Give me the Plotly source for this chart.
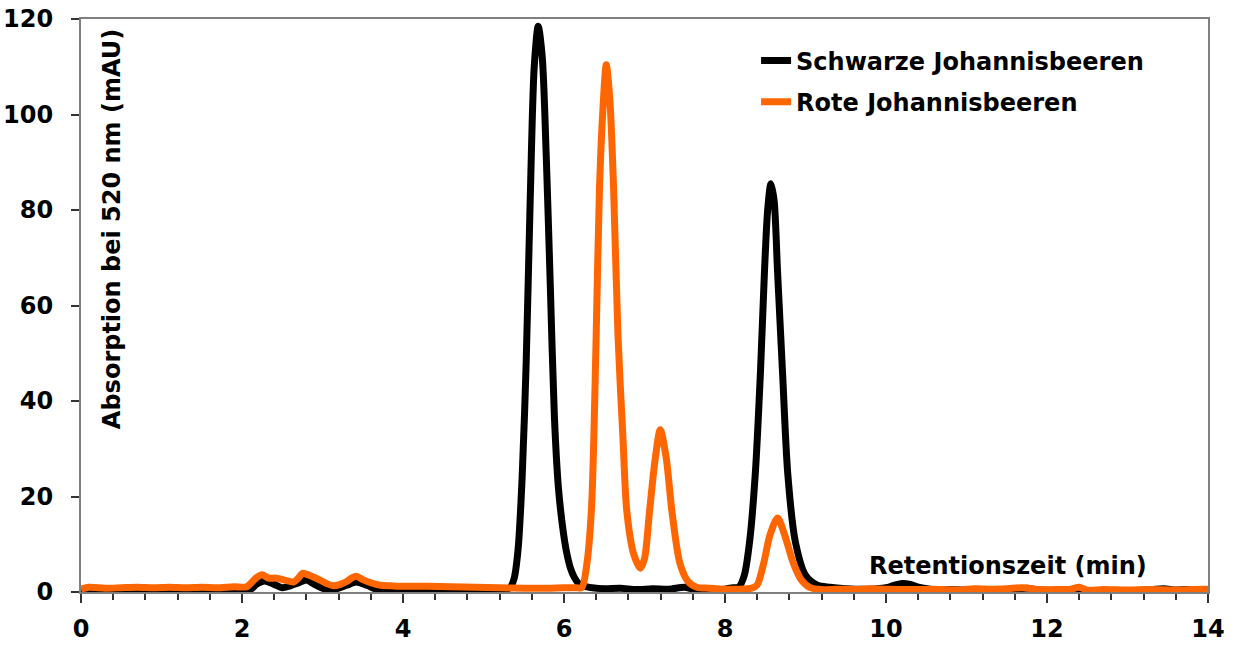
import plotly.graph_objects as go

# Retention time (min) and absorbance (mAU)
black_x = [0, 0.3, 0.6, 0.9, 1.2, 1.5, 1.8, 2.1, 2.18, 2.28, 2.4, 2.5, 2.6, 2.7, 2.8, 2.9,
           3.0, 3.1, 3.2, 3.3, 3.42, 3.55, 3.7, 3.9, 4.2, 4.6, 5.0, 5.2, 5.28,
           5.33, 5.38, 5.43, 5.48, 5.53, 5.58, 5.63, 5.68, 5.73, 5.78, 5.83, 5.88, 5.93,
           5.98, 6.03, 6.08, 6.13, 6.18, 6.25, 6.35, 6.5, 6.7, 6.9, 7.1, 7.3, 7.5, 7.6,
           7.8, 8.0, 8.1, 8.17, 8.24, 8.306, 8.376, 8.44, 8.49, 8.53, 8.57, 8.61, 8.653,
           8.715, 8.78, 8.873, 9.0, 9.14, 9.3, 9.5, 9.8, 10.0, 10.1, 10.2, 10.3, 10.4,
           10.55, 10.8, 11.0, 11.3, 11.6, 11.75, 11.9, 12.2, 12.5, 12.8, 13.1, 13.3,
           13.45, 13.6, 13.75, 13.9, 14.0]
black_y = [0.5, 0.4, 0.5, 0.4, 0.5, 0.4, 0.5, 0.5, 1.6, 2.3, 1.6, 0.9, 1.3, 1.9, 2.5, 1.6,
           0.8, 0.4, 0.8, 1.4, 2.1, 1.4, 0.4, 0.3, 0.4, 0.3, 0.4, 0.5, 0.6,
           0.9, 2.8, 9.0, 24.0, 48.0, 82.0, 110.0, 118.5, 112.0, 91.0, 64.0, 37.0, 22.0,
           14.0, 8.5, 5.0, 3.0, 1.8, 1.2, 0.9, 0.7, 0.8, 0.5, 0.7, 0.6, 1.0, 0.6,
           0.5, 0.6, 0.9, 1.0, 3.5, 10.6, 24.7, 45.9, 67.0, 80.0, 85.5, 82.0, 67.0,
           45.9, 24.7, 10.6, 3.5, 1.5, 1.0, 0.7, 0.6, 0.9, 1.4, 1.8, 1.6, 1.0,
           0.6, 0.5, 0.4, 0.5, 0.6, 0.8, 0.4, 0.4, 0.3, 0.3, 0.3, 0.5,
           0.7, 0.4, 0.5, 0.2, 0.3]

orange_x = [0, 0.1, 0.3, 0.5, 0.7, 0.9, 1.1, 1.3, 1.5, 1.7, 1.9, 2.06, 2.12, 2.18, 2.25,
            2.33, 2.43, 2.53, 2.64, 2.7, 2.75, 2.85, 2.97, 3.06, 3.14, 3.22, 3.3, 3.36,
            3.42, 3.5, 3.59, 3.72, 3.85, 4.0, 4.3, 4.6, 4.9, 5.2, 5.5, 5.8, 6.0, 6.15,
            6.22, 6.285, 6.34, 6.37, 6.40, 6.44, 6.48, 6.525, 6.57, 6.617, 6.67, 6.733,
            6.78, 6.865, 6.948, 7.0, 7.063, 7.134, 7.196, 7.27, 7.34, 7.44, 7.54, 7.65,
            7.8, 8.0, 8.2, 8.33, 8.40, 8.48, 8.56, 8.653, 8.74, 8.85, 8.95, 9.06, 9.2,
            9.4, 9.6, 9.8, 10.0, 10.3, 10.6, 10.9, 11.1, 11.3, 11.5, 11.7, 11.9, 12.1,
            12.3, 12.4, 12.5, 12.7, 13.0, 13.3, 13.6, 13.8, 14.0]
orange_y = [0.6, 1.0, 0.8, 0.9, 1.0, 0.9, 1.0, 0.9, 1.0, 0.9, 1.1, 1.1, 2.0, 3.0, 3.6,
            2.9, 2.9, 2.5, 2.1, 2.9, 3.9, 3.4, 2.5, 1.7, 1.3, 1.6, 2.2, 2.9,
            3.3, 2.6, 2.0, 1.4, 1.3, 1.2, 1.2, 1.1, 1.0, 0.9, 0.8, 0.8, 0.9, 0.9,
            0.9, 6.0, 17.0, 32.0, 54.0, 84.0, 100.0, 110.4, 103.0, 84.0, 54.0, 32.0,
            17.0, 8.0, 5.0, 7.0, 17.0, 28.0, 34.0, 28.0, 17.0, 6.0, 2.2, 1.0,
            0.8, 0.6, 0.6, 0.8, 1.5, 6.0, 12.0, 15.5, 12.0, 6.0, 2.5, 0.9, 0.5,
            0.6, 0.5, 0.7, 0.6, 0.5, 0.6, 0.4, 0.7, 0.6, 0.7, 0.9, 0.5, 0.5,
            0.6, 1.0, 0.4, 0.5, 0.4, 0.5, 0.4, 0.5, 0.6]

series_names = ["Schwarze Johannisbeeren", "Rote Johannisbeeren"]

FONT = "DejaVu Sans"
FS = 24
AXIS_GRAY = "#7f7f7f"
TICK = "#333333"

fig = go.Figure()
fig.add_trace(go.Scatter(x=black_x, y=black_y, mode="lines", name=series_names[0],
                         line=dict(color="#000000", width=7, shape="spline", smoothing=0.8),
                         legendgroup="a"))
fig.add_trace(go.Scatter(x=orange_x, y=orange_y, mode="lines", name=series_names[1],
                         line=dict(color="#FF6600", width=7, shape="spline", smoothing=0.8),
                         legendgroup="b"))

fig.update_layout(
    width=1238, height=648,
    margin=dict(l=81, r=30, t=19, b=56, autoexpand=False),
    paper_bgcolor="white", plot_bgcolor="white",
    font=dict(family=FONT, size=FS, color="black", weight="bold"),
    showlegend=True,
    legend=dict(x=0.599, y=0.966, xanchor="left", yanchor="top",
                bgcolor="rgba(0,0,0,0)", font=dict(family=FONT, size=FS, weight="bold"),
                traceorder="grouped", tracegroupgap=7),
    xaxis=dict(range=[0, 14], tickmode="linear", tick0=0, dtick=2, ticks="outside",
               ticklen=9, tickwidth=2, tickcolor=TICK, showline=True,
               linecolor=AXIS_GRAY, linewidth=2, mirror=True, showgrid=False,
               zeroline=False, ticklabelstandoff=5, automargin=False,
               minor=dict(tick0=0, dtick=0.4, ticks="outside", ticklen=6, tickwidth=2,
                          tickcolor=TICK, showgrid=False),
               tickfont=dict(family=FONT, size=FS, weight="bold")),
    yaxis=dict(range=[0, 120], tickmode="linear", tick0=0, dtick=20, ticks="outside",
               ticklen=8, tickwidth=2, tickcolor=TICK, showline=True,
               linecolor=AXIS_GRAY, linewidth=2, mirror=True, showgrid=False,
               zeroline=False, ticklabelstandoff=13, automargin=False,
               tickfont=dict(family=FONT, size=FS, weight="bold")),
    annotations=[
        dict(text="Absorption bei 520 nm (mAU)", xref="paper", yref="paper",
             x=0.027, y=0.634, textangle=-90, showarrow=False,
             xanchor="center", yanchor="middle",
             font=dict(family=FONT, size=FS, weight="bold")),
        dict(text="Retentionszeit (min)", xref="x", yref="y", x=9.76, y=5.4,
             showarrow=False, xanchor="left", yanchor="middle",
             font=dict(family=FONT, size=FS, weight="bold")),
    ],
)

fig.write_html("out.html")
